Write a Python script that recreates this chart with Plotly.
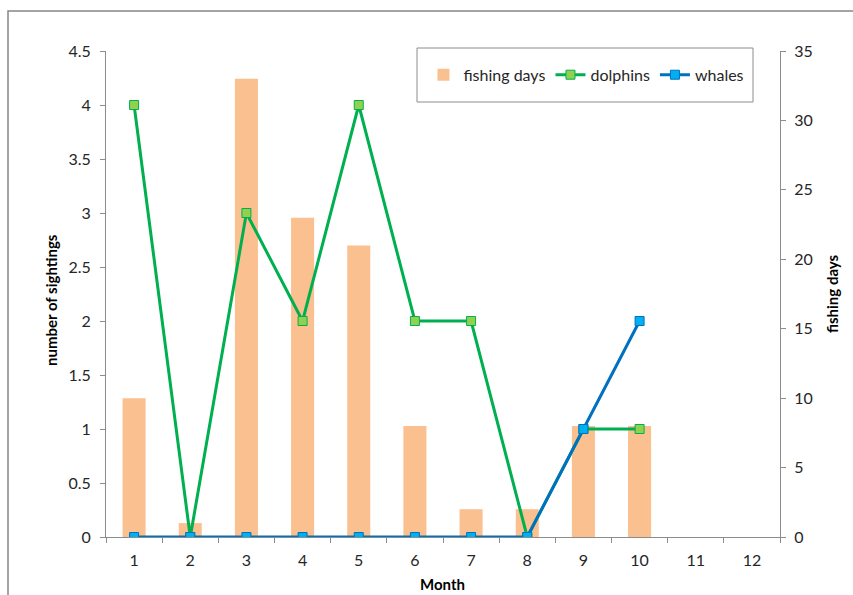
import plotly.graph_objects as go

months = ["1", "2", "3", "4", "5", "6", "7", "8", "9", "10", "11", "12"]
fishing_days = [10, 1, 33, 23, 21, 8, 2, 2, 8, 8, None, None]
dolphins = [4, 0, 3, 2, 4, 2, 2, 0, 1, 1, None, None]
whales = [0, 0, 0, 0, 0, 0, 0, 0, 1, 2, None, None]

FONT = "Lato"
AX = "#8c8c8c"
TXT = "#262626"

fig = go.Figure()
fig.add_trace(go.Bar(
    x=months, y=fishing_days, name="fishing days", yaxis="y",
    marker=dict(color="#FAC090", line=dict(width=0)), width=0.41,
))
fig.add_trace(go.Scatter(
    x=months, y=dolphins, name="dolphins", yaxis="y2", mode="lines+markers",
    line=dict(color="#00B050", width=3),
    marker=dict(symbol="square", size=9, color="#92D050", line=dict(color="#00B050", width=1)),
))
fig.add_trace(go.Scatter(
    x=months, y=whales, name="whales", yaxis="y2", mode="lines+markers",
    line=dict(color="#0070C0", width=3),
    marker=dict(symbol="square", size=9, color="#00B0F0", line=dict(color="#0070C0", width=1)),
))

fig.update_layout(
    width=853, height=595,
    margin=dict(l=106, r=73, t=51, b=58),
    paper_bgcolor="white", plot_bgcolor="white",
    font=dict(family=FONT, size=16, color=TXT),
    showlegend=True,
    legend=dict(orientation="h", x=0.471, y=0.951, xanchor="left", yanchor="middle",
                bgcolor="rgba(0,0,0,0)", borderwidth=0, font=dict(size=16, color=TXT),
                itemwidth=30, traceorder="normal"),
    xaxis=dict(type="category", range=[-0.5, 11.5], showline=True, linecolor=AX, linewidth=1,
               ticks="outside", ticklen=5, tickcolor=AX, tickson="boundaries",
               ticklabelstandoff=9,
               showgrid=False, zeroline=False, tickfont=dict(size=16, color=TXT)),
    yaxis=dict(side="right", range=[0, 35], dtick=5, showline=True, linecolor=AX, linewidth=1,
               ticks="outside", ticklen=5, tickcolor=AX, showgrid=False, zeroline=False,
               ticklabelstandoff=5,
               tickfont=dict(size=16, color=TXT)),
    yaxis2=dict(side="left", overlaying="y", range=[0, 4.5], dtick=0.5, showline=True,
                linecolor=AX, linewidth=1, ticks="outside", ticklen=5, tickcolor=AX,
                ticklabelstandoff=6,
                showgrid=False, zeroline=False, tickfont=dict(size=16, color=TXT)),
    shapes=[
        dict(type="rect", xref="paper", yref="paper",
             x0=(417 - 106) / 674, x1=(753 - 106) / 674,
             y0=(537 - 102) / 486, y1=(537 - 48) / 486,
             line=dict(color=AX, width=1), fillcolor="rgba(0,0,0,0)"),
        dict(type="rect", xref="paper", yref="paper",
             x0=(8 - 106) / 674, x1=(870 - 106) / 674,
             y0=(537 - 620) / 486, y1=(537 - 11) / 486,
             line=dict(color="#868686", width=1.5), fillcolor="rgba(0,0,0,0)"),
    ],
    annotations=[
        dict(text="<b>number of sightings</b>", xref="paper", yref="paper",
             x=(51 - 106) / 674, y=(537 - 300) / 486, textangle=-90, showarrow=False,
             xanchor="center", yanchor="middle", font=dict(size=15, color="black")),
        dict(text="<b>fishing days</b>", xref="paper", yref="paper",
             x=(832 - 106) / 674, y=(537 - 294) / 486, textangle=-90, showarrow=False,
             xanchor="center", yanchor="middle", font=dict(size=15, color="black")),
        dict(text="<b>Month</b>", xref="paper", yref="paper",
             x=(442 - 106) / 674, y=(537 - 584) / 486, showarrow=False,
             xanchor="center", yanchor="middle", font=dict(size=15, color="black")),
    ],
)

fig.write_html("out.html", config={"displayModeBar": False},
               post_script="document.body.style.margin='0';")
